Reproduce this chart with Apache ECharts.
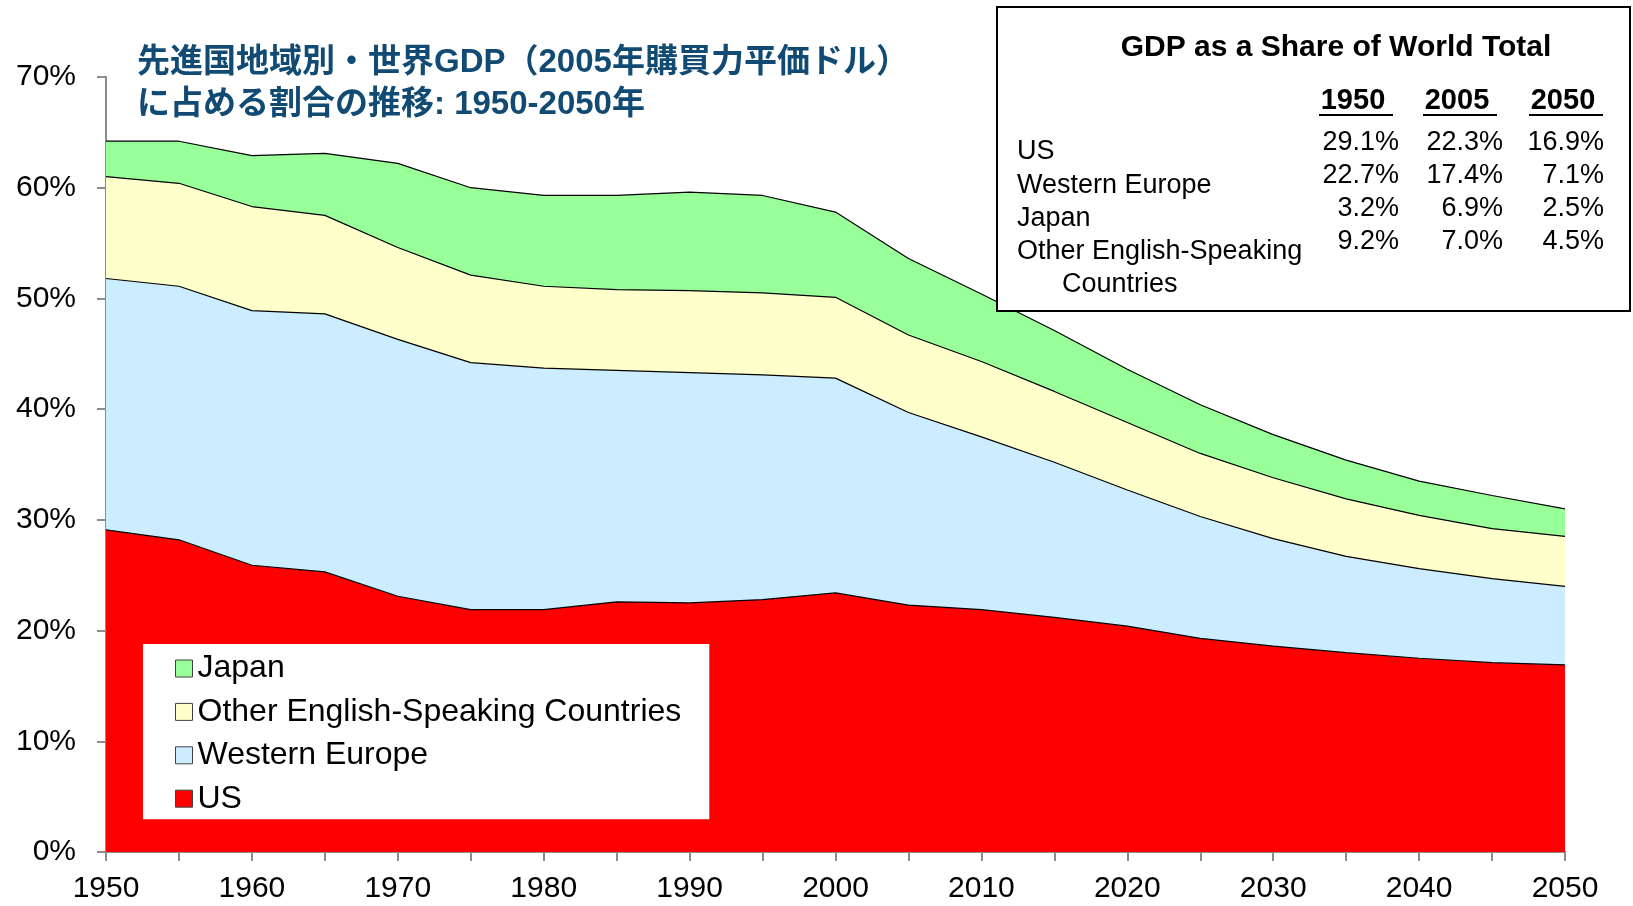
<!DOCTYPE html>
<html>
<head>
<meta charset="utf-8">
<title>GDP share</title>
<script src="https://cdn.jsdelivr.net/npm/echarts@6/dist/echarts.min.js"></script>
<style>
html, body { margin: 0; padding: 0; background: #fff; }
#chart { width: 1633px; height: 906px; }
</style>
</head>
<body>
<div id="chart"></div>
<script>
// 5年刻みの年
const years = ['1950', '1955', '1960', '1965', '1970', '1975', '1980', '1985', '1990', '1995', '2000',
    '2005', '2010', '2015', '2020', '2025', '2030', '2035', '2040', '2045', '2050'];

// 世界GDPに占める割合 (%)
const us = [29.1, 28.2, 25.9, 25.3, 23.1, 21.9, 21.9, 22.6, 22.5, 22.8, 23.4,
    22.3, 21.9, 21.2, 20.4, 19.3, 18.6, 18.0, 17.5, 17.1, 16.9];
const westernEurope = [22.7, 22.9, 23.0, 23.3, 23.2, 22.3, 21.8, 20.9, 20.8, 20.3, 19.4,
    17.4, 15.6, 14.0, 12.3, 11.0, 9.7, 8.7, 8.1, 7.6, 7.1];
const otherEnglish = [9.2, 9.3, 9.4, 8.9, 8.3, 7.9, 7.4, 7.3, 7.4, 7.4, 7.3,
    7.0, 6.8, 6.4, 6.1, 5.7, 5.5, 5.2, 4.8, 4.5, 4.5];
const japan = [3.2, 3.8, 4.6, 5.6, 7.6, 7.9, 8.2, 8.5, 8.9, 8.8, 7.7,
    6.9, 6.1, 5.5, 4.8, 4.4, 3.9, 3.5, 3.1, 3.0, 2.5];

// 表に載せる年
const tableYears = ['1950', '2005', '2050'];

const latin = '"Liberation Sans", Arial, sans-serif';
const titleFont = '"Liberation Sans", "Noto Sans CJK JP", sans-serif';

function area(name, data, color) {
    return {
        name: name,
        type: 'line',
        stack: 'total',
        data: data,
        symbol: 'none',
        color: color,
        lineStyle: { color: '#000', width: 1.2 },
        areaStyle: { color: color, opacity: 1 },
        emphasis: { disabled: true }
    };
}

// 右上の表
const colRight = [1399, 1503, 1604];
const colHead = [1353, 1457, 1563];
const rows = [
    { label: 'US', y: 152, values: us },
    { label: 'Western Europe', y: 186, values: westernEurope },
    { label: 'Japan', y: 219, values: japan },
    { label: 'Other English-Speaking', y: 252, values: otherEnglish }
];
const rowNumY = [143, 176, 209, 242];

let graphics = [
    { type: 'rect', z: 10, shape: { x: 997, y: 7, width: 633, height: 304 }, style: { fill: '#fff', stroke: '#000', lineWidth: 2 } },
    { type: 'text', z: 11, x: 1336, y: 48, style: { text: 'GDP as a Share of World Total', fontFamily: latin, fontSize: 30, fontWeight: 'bold', fill: '#000', align: 'center', verticalAlign: 'middle' } },
    { type: 'text', z: 11, x: 1062, y: 285, style: { text: 'Countries', fontFamily: latin, fontSize: 27, fill: '#000', align: 'left', verticalAlign: 'middle' } }
];
tableYears.forEach(function (yr, i) {
    graphics.push({ type: 'text', z: 11, x: colHead[i], y: 101, style: { text: yr, fontFamily: latin, fontSize: 29, fontWeight: 'bold', fill: '#000', align: 'center', verticalAlign: 'middle' } });
    graphics.push({ type: 'line', z: 11, shape: { x1: colHead[i] - 34, y1: 115, x2: colHead[i] + 40, y2: 115 }, style: { stroke: '#000', lineWidth: 2 } });
});
rows.forEach(function (r, j) {
    graphics.push({ type: 'text', z: 11, x: 1017, y: r.y, style: { text: r.label, fontFamily: latin, fontSize: 27, fill: '#000', align: 'left', verticalAlign: 'middle' } });
    tableYears.forEach(function (yr, i) {
        const v = r.values[years.indexOf(yr)];
        graphics.push({ type: 'text', z: 11, x: colRight[i], y: rowNumY[j], style: { text: v.toFixed(1) + '%', fontFamily: latin, fontSize: 27, fill: '#000', align: 'right', verticalAlign: 'middle' } });
    });
});

const chart = echarts.init(document.getElementById('chart'));
chart.setOption({
    animation: false,
    backgroundColor: '#fff',
    title: {
        text: '先進国地域別・世界GDP（2005年購買力平価ドル）\nに占める割合の推移: 1950-2050年',
        left: 137,
        top: 42,
        padding: 0,
        textStyle: { fontFamily: titleFont, fontSize: 33, fontWeight: 'bold', color: '#114a73', lineHeight: 42 }
    },
    grid: { left: 106, top: 77, width: 1459, height: 775 },
    legend: {
        data: ['Japan', 'Other English-Speaking Countries', 'Western Europe', 'US'],
        orient: 'vertical',
        left: 143,
        top: 644,
        padding: [8.5, 28, 4.5, 32],
        backgroundColor: '#fff',
        itemWidth: 17,
        itemHeight: 17,
        itemGap: 11.4,
        icon: 'rect',
        itemStyle: { borderColor: '#404040', borderWidth: 1 },
        textStyle: { fontFamily: latin, fontSize: 32, color: '#000', lineHeight: 30 },
        z: 5
    },
    xAxis: {
        type: 'category',
        data: years,
        boundaryGap: false,
        axisLine: { lineStyle: { color: '#8c8c8c', width: 2 } },
        axisTick: { interval: 0, length: 9, lineStyle: { color: '#8c8c8c', width: 2 } },
        axisLabel: { interval: 1, fontFamily: latin, fontSize: 30, color: '#000', margin: 22 },
        splitLine: { show: false }
    },
    yAxis: {
        type: 'value',
        min: 0,
        max: 70,
        interval: 10,
        axisLine: { show: true, lineStyle: { color: '#8c8c8c', width: 2 } },
        axisTick: { show: true, length: 9, lineStyle: { color: '#8c8c8c', width: 2 } },
        axisLabel: { formatter: '{value}%', fontFamily: latin, fontSize: 30, color: '#000', margin: 30 },
        splitLine: { show: false }
    },
    graphic: graphics,
    series: [
        area('US', us, '#FF0000'),
        area('Western Europe', westernEurope, '#CCECFF'),
        area('Other English-Speaking Countries', otherEnglish, '#FFFFCC'),
        area('Japan', japan, '#99FF99')
    ]
});
</script>
</body>
</html>
